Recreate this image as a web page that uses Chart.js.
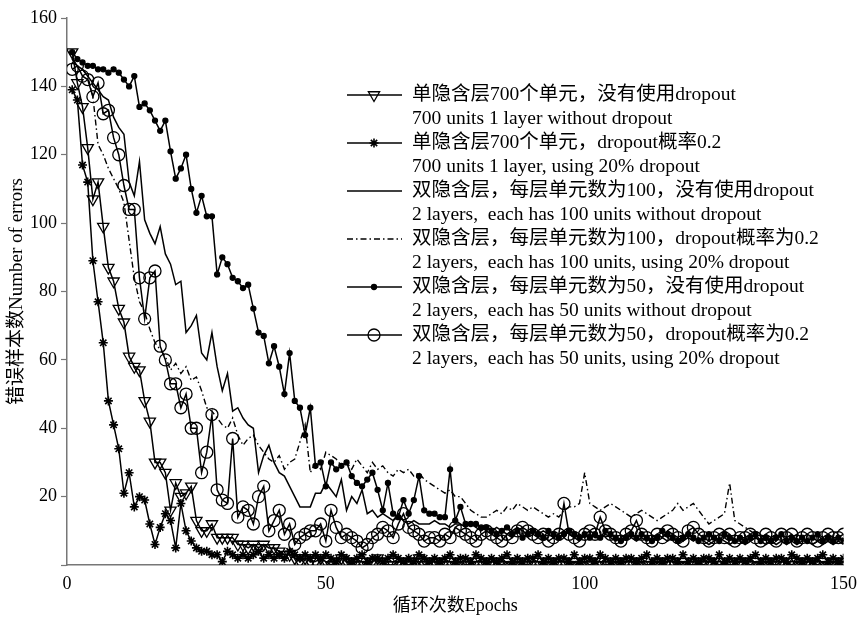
<!DOCTYPE html>
<html>
<head>
<meta charset="utf-8">
<script src="https://cdn.jsdelivr.net/npm/chart.js@4.4.0/dist/chart.umd.min.js"></script>
<style>
  html, body { margin: 0; padding: 0; background: #fff; }
  #wrap { width: 865px; height: 619px; }
</style>
</head>
<body>
<div id="wrap"><canvas id="errcanvas" width="865" height="619"></canvas></div>
<script>
// epochs 1..150
let epochs = Array.from({ length: 150 }, (_, i) => i + 1);
let xTicks = [0, 50, 100, 150];

// 单隐含层700个单元,没有使用dropout
let oneLayerNoDrop = [
  150,141,134,122,107,112,99,87,83,75,
  71,61,58,57,48,42,30,30,27,16,
  24,20,21,23,13,10,10,12,8,8,
  8,8,6,6,5,6,5,6,5,5,
  4,3,3,2,1,2,1,1,2,1,
  0,1,2,1,0,1,1,0,1,2,
  1,0,0,1,1,0,1,2,0,1,
  1,0,1,1,0,1,0,0,1,1,
  0,1,1,0,1,0,1,0,0,1,
  1,0,1,0,1,1,0,1,0,1,
  0,1,1,0,0,1,0,1,1,0,
  1,0,0,1,0,1,1,0,1,0,
  0,1,0,1,1,0,1,0,0,1,
  1,0,1,0,1,0,0,1,1,0,
  1,0,1,1,0,1,0,1,0,1
];

// 单隐含层700个单元,dropout概率0.2
let oneLayerDrop = [
  139,136,117,112,89,77,65,48,41,34,
  21,27,17,20,19,12,6,11,15,13,
  5,18,10,7,5,4,4,3,3,1,
  4,3,2,3,2,3,4,2,3,2,
  3,2,4,3,2,3,2,3,2,3,
  2,1,3,2,1,2,3,1,2,2,
  1,2,3,2,1,2,1,3,2,1,
  2,1,2,3,1,2,2,1,3,2,
  1,2,1,2,3,1,2,1,2,2,
  3,1,2,1,2,2,1,3,1,2,
  2,1,3,2,1,2,1,2,2,1,
  2,3,1,2,1,2,2,1,3,1,
  2,1,2,2,1,3,1,2,1,2,
  1,2,3,1,2,1,2,2,1,3,
  2,1,2,1,2,3,1,2,1,2
];

// 双隐含层,每层单元数为100,没有使用dropout
let twoLayer100NoDrop = [
  148,146,145,143,141,139,137,136,131,128,
  126,112,108,118,101,97,94,99,91,88,
  82,83,68,70,73,62,60,68,58,51,
  56,45,46,43,41,40,27,32,35,30,
  27,26,23,20,17,17,17,21,21,24,
  22,20,25,16,20,18,22,15,16,14,
  15,14,13,15,13,12,13,12,12,12,
  13,12,12,11,12,12,11,12,11,10,
  11,10,11,10,9,10,11,10,9,10,
  9,10,9,8,9,10,9,8,9,8,
  9,8,8,9,8,7,8,9,8,7,
  8,7,8,9,8,7,8,7,7,8,
  7,8,7,6,7,8,7,6,7,7,
  6,7,8,7,6,7,6,7,6,7,
  6,7,7,6,7,6,7,6,7,6
];

// 双隐含层,每层单元数为100,dropout概率为0.2
let twoLayer100Drop = [
  148,146,145,143,137,123,120,116,113,110,
  106,95,84,77,74,69,65,63,61,57,
  59,56,58,54,55,51,46,45,43,41,
  40,43,38,35,37,38,35,33,31,30,
  32,28,30,31,36,41,27,30,28,33,
  32,31,29,30,28,31,29,27,30,28,
  29,27,26,28,27,28,26,27,25,24,
  23,22,21,22,20,20,18,16,15,14,
  14,15,16,15,17,16,18,17,16,17,
  16,15,14,15,14,16,17,17,18,27,
  18,17,16,17,18,17,16,15,14,15,
  16,15,14,13,14,15,16,18,16,17,
  18,16,14,12,13,14,15,24,13,12,
  11,10,9,8,9,8,9,8,7,8,
  9,8,7,8,7,8,9,8,7,8
];

// 双隐含层,每层单元数为50,没有使用dropout
let twoLayer50NoDrop = [
  150,148,147,146,146,145,145,144,145,144,
  142,140,143,134,135,133,130,127,130,121,
  113,116,120,110,103,108,102,102,85,90,
  88,84,83,81,82,75,68,67,59,64,
  58,50,62,48,46,38,46,29,30,23,
  30,28,29,30,26,24,23,25,27,22,
  16,24,15,14,19,15,19,26,16,15,
  15,14,14,28,13,17,12,12,12,11,
  11,10,9,10,11,9,10,8,9,10,
  9,8,10,9,8,9,10,9,8,9,
  8,9,8,10,9,8,7,8,9,8,
  9,8,7,8,10,9,8,7,8,9,
  8,7,8,9,8,7,9,8,7,8,
  7,8,9,7,8,7,8,9,7,8,
  7,8,7,8,9,7,8,7,8,7
];

// 双隐含层,每层单元数为50,dropout概率为0.2
let twoLayer50Drop = [
  145,146,143,142,137,141,132,133,125,120,
  111,104,104,84,72,84,86,64,60,53,
  53,46,50,40,40,27,33,44,22,19,
  18,37,14,17,16,12,20,23,10,13,
  16,9,12,6,8,9,10,10,12,7,
  16,11,8,9,8,7,5,6,8,9,
  11,10,8,12,15,11,10,9,7,8,
  8,7,9,8,11,10,9,8,7,9,
  10,9,8,7,9,8,10,11,10,9,
  8,9,7,8,9,18,9,8,7,9,
  10,9,14,10,9,8,7,9,10,13,
  9,8,7,9,8,10,9,8,7,10,
  11,9,8,7,8,9,8,9,7,8,
  8,9,8,7,9,8,7,9,8,9,
  7,8,9,8,7,8,9,8,8,9
];

let legendZh = [
  '单隐含层700个单元，没有使用dropout',
  '单隐含层700个单元，dropout概率0.2',
  '双隐含层，每层单元数为100，没有使用dropout',
  '双隐含层，每层单元数为100，dropout概率为0.2',
  '双隐含层，每层单元数为50，没有使用dropout',
  '双隐含层，每层单元数为50，dropout概率为0.2'
];
let legendEn = [
  '700 units 1 layer without dropout',
  '700 units 1 layer, using 20% dropout',
  '2 layers,  each has 100 units without dropout',
  '2 layers,  each has 100 units, using 20% dropout',
  '2 layers,  each has 50 units without dropout',
  '2 layers,  each has 50 units, using 20% dropout'
];

const FONT = '"Liberation Serif", "Noto Sans CJK SC", serif';

function toPoints(values) {
  return values.map((v, i) => ({ x: epochs[i], y: v }));
}

function makeSet(label, values, extra) {
  return Object.assign({
    label: label,
    data: toPoints(values),
    borderColor: '#000',
    borderWidth: 1.5,
    pointBorderColor: '#000',
    pointBackgroundColor: 'rgba(0,0,0,0)',
    pointBorderWidth: 1.3,
    pointRadius: 0,
    pointHoverRadius: 0,
    tension: 0
  }, extra);
}

let datasets = [
  makeSet(legendZh[0], oneLayerNoDrop, { pointStyle: 'triangle', pointRotation: 180, pointRadius: 6.5 }),
  makeSet(legendZh[1], oneLayerDrop, { pointStyle: 'star', pointRadius: 4.5, pointBorderWidth: 1.6 }),
  makeSet(legendZh[2], twoLayer100NoDrop, { pointStyle: false }),
  makeSet(legendZh[3], twoLayer100Drop, { pointStyle: false, borderDash: [6, 3, 1.5, 3], borderWidth: 1.4 }),
  makeSet(legendZh[4], twoLayer50NoDrop, { pointStyle: 'circle', pointRadius: 2.5, pointBackgroundColor: '#000' }),
  makeSet(legendZh[5], twoLayer50Drop, { pointStyle: 'circle', pointRadius: 6 })
];

// legend drawn by hand: two text lines for every series
const rowLegend = {
  id: 'rowLegend',
  afterDraw(chart) {
    let ctx = chart.ctx;
    let top = 95, gap = 24, x0 = 347, x1 = 402, xm = 374, xt = 412;
    ctx.save();
    chart.data.datasets.forEach((ds, k) => {
      let y = top + gap * 2 * k;
      ctx.strokeStyle = '#000';
      ctx.lineWidth = ds.borderWidth;
      ctx.setLineDash(ds.borderDash || []);
      ctx.beginPath();
      ctx.moveTo(x0, y);
      ctx.lineTo(x1, y);
      ctx.stroke();
      ctx.setLineDash([]);
      if (ds.pointStyle) {
        ctx.fillStyle = ds.pointBackgroundColor;
        ctx.strokeStyle = '#000';
        ctx.lineWidth = ds.pointBorderWidth;
        Chart.helpers.drawPoint(ctx, {
          pointStyle: ds.pointStyle,
          rotation: ds.pointRotation || 0,
          radius: ds.pointRadius,
          borderWidth: ds.pointBorderWidth
        }, xm, y);
      }
      ctx.fillStyle = '#000';
      ctx.font = '19.5px ' + FONT;
      ctx.textBaseline = 'middle';
      ctx.textAlign = 'left';
      ctx.fillText(legendZh[k], xt, y);
      ctx.fillText(legendEn[k], xt, y + gap);
    });
    ctx.restore();
  }
};

let ctxMain = document.getElementById('errcanvas').getContext('2d');
let errChart = new Chart(ctxMain, {
  type: 'line',
  data: { datasets: datasets },
  options: {
    responsive: false,
    animation: false,
    devicePixelRatio: 1,
    layout: { padding: { top: 18, right: 18, left: 0, bottom: 0 } },
    plugins: {
      legend: { display: false },
      tooltip: { enabled: false }
    },
    scales: {
      x: {
        type: 'linear',
        min: 0,
        max: 150,
        afterFit(scale) { scale.height = 54; },
        afterBuildTicks(scale) { scale.ticks = xTicks.map(v => ({ value: v })); },
        grid: { display: true, drawOnChartArea: false, drawTicks: false },
        border: { display: true, color: '#777', width: 1.5 },
        ticks: { color: '#000', padding: 8, font: { family: FONT, size: 18 } },
        title: {
          display: true,
          text: '循环次数Epochs',
          color: '#000',
          font: { family: FONT, size: 18 },
          padding: { top: 0, bottom: 2 }
        }
      },
      y: {
        min: 0,
        max: 160,
        afterFit(scale) { scale.width = 67; },
        grid: { display: true, drawOnChartArea: false, drawTicks: true, tickLength: 6, tickColor: '#777', tickWidth: 1.2 },
        border: { display: true, color: '#777', width: 1.5 },
        ticks: {
          stepSize: 20,
          color: '#000',
          padding: 4,
          font: { family: FONT, size: 18 },
          callback: v => (v === 0 ? '' : v)
        },
        title: {
          display: true,
          text: '错误样本数Number of errors',
          color: '#000',
          font: { family: FONT, size: 19 },
          padding: { top: 6, bottom: 0 }
        }
      }
    }
  },
  plugins: [rowLegend]
});
</script>
</body>
</html>
